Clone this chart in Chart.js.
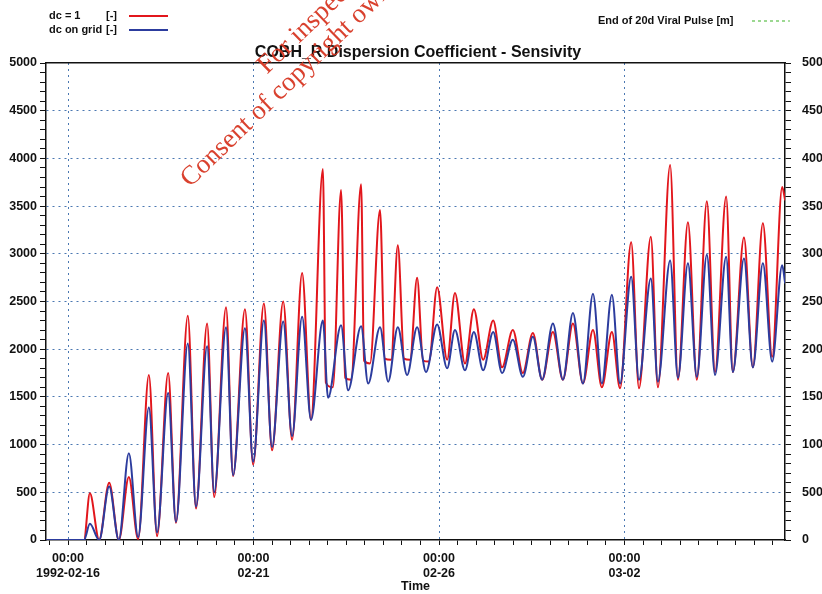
<!DOCTYPE html>
<html><head><meta charset="utf-8">
<script src="https://cdn.jsdelivr.net/npm/chart.js@4.4.1/dist/chart.umd.min.js"></script>
<style>html,body{margin:0;padding:0;background:#fff;} #wrap{width:822px;height:594px;}</style>
</head><body><div id="wrap"><canvas id="c" width="822" height="594"></canvas></div>
<script>
// ---- data (time in days since 1992-02-16 00:00) ----
const chartTitle = 'COBH_R Dispersion Coefficient - Sensivity';
const seriesLabels = ['dc = 1', 'dc on grid', 'End of 20d Viral Pulse'];
const seriesUnits = ['[-]', '[-]', '[m]'];
const xAxisTitle = 'Time';
const dayTicks = [0, 5, 10, 15];
const dayTickDates = ['1992-02-16', '02-21', '02-26', '03-02'];
const hourLabel = '00:00';
const xMinDay = -0.593, xMaxDay = 19.326;

const redDays = [-0.59,0.43,0.59,0.84,1.11,1.37,1.64,1.89,2.18,2.40,2.70,2.91,3.23,3.45,3.75,3.94,4.26,4.45,4.77,4.99,
  5.28,5.50,5.80,6.04,6.31,6.55,6.87,6.95,7.14,7.36,7.47,7.63,7.90,7.98,8.14,8.41,8.54,8.71,8.89,9.06,9.22,9.41,9.57,9.73,
  9.95,10.22,10.43,10.70,10.94,11.19,11.46,11.70,11.99,12.26,12.53,12.78,13.07,13.34,13.61,13.88,14.15,14.39,14.66,14.88,
  15.18,15.39,15.71,15.90,16.23,16.44,16.71,16.95,17.22,17.44,17.74,17.92,18.22,18.46,18.73,18.98,19.25,19.33];
const redVals = [0,0,490,0,600,0,660,10,1730,40,1750,180,2350,330,2270,450,2440,670,2420,790,
  2480,940,2500,1050,2800,1260,3890,1650,1600,3670,1700,1680,3730,1880,1850,3460,1900,1890,3090,1900,1890,2750,1880,1870,
  2650,1890,2590,1850,2420,1890,2300,1810,2200,1750,2170,1680,2180,1680,2270,1640,2200,1600,2180,1590,
  3120,1590,3180,1600,3930,1680,3330,1680,3550,1760,3600,1760,3170,1810,3320,1920,3700,3560];

const blueDays = [-0.59,0.43,0.59,0.84,1.11,1.37,1.64,1.89,2.18,2.40,2.70,2.91,3.23,3.45,3.75,3.94,4.26,4.45,4.77,4.99,
  5.28,5.50,5.80,6.04,6.31,6.55,6.87,7.01,7.36,7.55,7.90,8.09,8.41,8.63,8.89,9.14,9.41,9.65,9.95,10.22,
  10.43,10.70,10.94,11.19,11.46,11.70,11.99,12.26,12.53,12.78,13.07,13.34,13.61,13.88,14.15,14.39,14.66,14.88,
  15.18,15.39,15.71,15.90,16.23,16.44,16.71,16.95,17.22,17.44,17.74,17.92,18.22,18.46,18.73,18.98,19.25,19.33];
const blueVals = [0,0,170,0,560,0,910,30,1390,80,1540,190,2060,350,2030,500,2230,680,2220,820,
  2300,975,2290,1090,2340,1260,2300,1490,2250,1570,2240,1640,2230,1660,2230,1730,2230,1760,2260,1800,
  2200,1780,2180,1780,2180,1750,2100,1710,2130,1680,2270,1680,2380,1640,2580,1640,2570,1640,
  2760,1680,2740,1660,2930,1700,2900,1710,2990,1730,2970,1760,2950,1810,2900,1870,2880,2690];

const pulseDays = [];   // no visible points in the plotted window
const pulseVals = [];

const yMin = 0, yMax = 5000, yMinor = 100, yMajor = 500;
// ------------------------------------------------

const GRID = 'rgba(55,105,170,0.9)';
const CLEAR = 'rgba(0,0,0,0)';
const FONT = "'Liberation Sans', Arial, sans-serif";
Chart.defaults.font.family = FONT;
Chart.defaults.color = '#111';

const toXY = (xs, ys) => xs.map((x, i) => ({x: x, y: ys[i]}));

const yTickCfg = {
  stepSize: yMinor, autoSkip: false, padding: 3,
  font: {size: 12.5, weight: 'bold'}, color: '#111',
  callback: v => (v % yMajor === 0) ? String(v) : ''
};

const overlay = {
  id: 'overlay',
  afterDraw(chart) {
    const ctx = chart.ctx;
    const ds = chart.data.datasets;
    ctx.save();
    // title
    ctx.fillStyle = '#111';
    ctx.font = 'bold 16px ' + FONT;
    ctx.textAlign = 'center'; ctx.textBaseline = 'middle';
    ctx.fillText(chartTitle, 418, 53);
    // legend left
    ctx.font = 'bold 11px ' + FONT;
    ctx.textAlign = 'left';
    [[0, 16], [1, 30]].forEach(([i, y]) => {
      ctx.fillStyle = '#111';
      ctx.fillText(ds[i].label, 49, y);
      ctx.fillText(seriesUnits[i], 106, y);
      ctx.strokeStyle = ds[i].borderColor; ctx.lineWidth = 2; ctx.setLineDash([]);
      ctx.beginPath(); ctx.moveTo(129, y); ctx.lineTo(168, y); ctx.stroke();
    });
    // legend right
    ctx.fillStyle = '#111';
    ctx.fillText(ds[2].label + ' ' + seriesUnits[2], 598, 21);
    ctx.strokeStyle = ds[2].borderColor; ctx.lineWidth = 1.2; ctx.setLineDash([3, 3]);
    ctx.beginPath(); ctx.moveTo(752, 21); ctx.lineTo(790, 21); ctx.stroke();
    ctx.setLineDash([]);
    // scan watermark
    ctx.translate(190, 188);
    ctx.rotate(-44 * Math.PI / 180);
    ctx.fillStyle = 'rgba(215,55,35,0.95)';
    ctx.font = "27px 'Liberation Serif', 'Times New Roman', serif";
    ctx.textAlign = 'left'; ctx.textBaseline = 'alphabetic';
    ctx.fillText('Consent of copyright owner required for any other use.', 0, 0);
    ctx.fillText('For inspection purposes only.', 134, -28);
    ctx.restore();
  }
};

new Chart(document.getElementById('c'), {
  type: 'line',
  data: {
    datasets: [
      {label: seriesLabels[0], data: toXY(redDays, redVals), borderColor: '#e2161c', borderWidth: 2,
       pointRadius: 0, cubicInterpolationMode: 'monotone', fill: false, order: 2},
      {label: seriesLabels[1], data: toXY(blueDays, blueVals), borderColor: '#2c3c9e', borderWidth: 2,
       pointRadius: 0, cubicInterpolationMode: 'monotone', fill: false, order: 1},
      {label: seriesLabels[2], data: toXY(pulseDays, pulseVals), borderColor: '#5cbf4a', borderWidth: 1,
       borderDash: [3, 3], pointRadius: 0, fill: false, order: 3}
    ]
  },
  options: {
    responsive: false, devicePixelRatio: 1, animation: false,
    layout: {padding: {top: 63, left: 0, right: 0, bottom: 0}},
    plugins: {legend: {display: false}, tooltip: {enabled: false}, title: {display: false}},
    scales: {
      x: {
        type: 'linear', position: 'bottom', min: xMinDay, max: xMaxDay,
        afterBuildTicks: s => { const t = []; for (let k = -1; k <= 38; k++) t.push({value: k * 0.5}); s.ticks = t; },
        afterFit: s => { s.height = 54; },
        ticks: {autoSkip: false, maxRotation: 0, padding: 6, font: {size: 12.5, weight: 'bold'}, color: '#111',
          callback: v => { const i = dayTicks.indexOf(v); return i >= 0 ? [hourLabel, dayTickDates[i]] : ''; }},
        grid: {color: c => (c.tick && dayTicks.indexOf(c.tick.value) >= 0) ? GRID : CLEAR,
               lineWidth: 1, tickColor: '#111', tickLength: 5, tickWidth: 1},
        border: {color: '#111', width: 1.5, dash: [2, 4]},
        title: {display: true, text: xAxisTitle, font: {size: 12.5, weight: 'bold'}, color: '#111', padding: {top: 0, bottom: 0}}
      },
      x2: {
        type: 'linear', position: 'top', min: xMinDay, max: xMaxDay,
        afterFit: s => { s.height = 0; },
        ticks: {display: false},
        grid: {display: true, drawOnChartArea: false, drawTicks: false},
        border: {display: true, color: '#111', width: 1.5}
      },
      y: {
        type: 'linear', position: 'left', min: yMin, max: yMax,
        afterFit: s => { s.width = 46; },
        ticks: yTickCfg,
        grid: {color: c => { const v = c.tick ? c.tick.value : -1; return (v % yMajor === 0 && v > yMin && v < yMax) ? GRID : CLEAR; },
               lineWidth: 1, tickColor: '#111', tickLength: 6, tickWidth: 1},
        border: {color: '#111', width: 1.5, dash: [2, 4]}
      },
      y2: {
        type: 'linear', position: 'right', min: yMin, max: yMax,
        afterFit: s => { s.width = 37; },
        ticks: Object.assign({}, yTickCfg, {padding: 11}),
        grid: {drawOnChartArea: false, tickColor: '#111', tickLength: 6, tickWidth: 1},
        border: {color: '#111', width: 1.5}
      }
    }
  },
  plugins: [overlay]
});
</script></body></html>
